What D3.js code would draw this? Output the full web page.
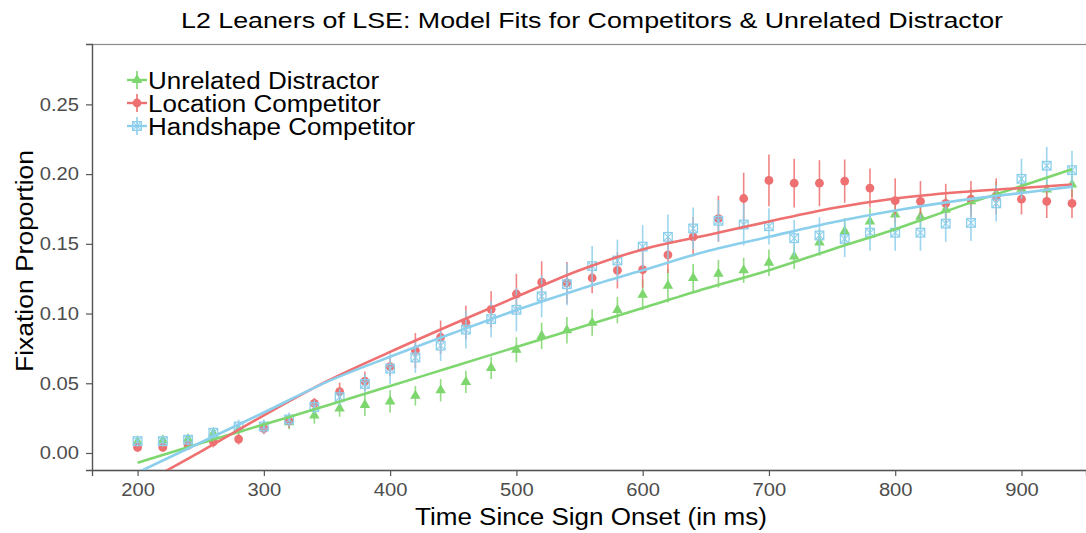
<!DOCTYPE html>
<html>
<head>
<meta charset="utf-8">
<script src="https://cdn.jsdelivr.net/npm/d3@7"></script>
<style>
  html, body { margin: 0; padding: 0; background: #fff; }
  svg { display: block; font-family: "Liberation Sans", Arial, sans-serif; }
</style>
</head>
<body>
<svg id="chart" width="1086" height="533"></svg>
<script>
// ---------------- DATA ----------------
const times = [200,220,240,260,280,300,320,340,360,380,400,420,440,460,480,500,520,540,560,580,
               600,620,640,660,680,700,720,740,760,780,800,820,840,860,880,900,920,940];

const unrelatedVals = [0.008,0.009,0.010,0.014,0.017,0.019,0.022,0.027,0.032,0.0345,0.037,0.041,0.045,0.051,0.061,0.074,0.084,0.088,0.0935,0.1025,
                   0.1135,0.120,0.1255,0.1285,0.131,0.1365,0.141,0.151,0.159,0.166,0.171,0.1695,0.1745,0.1805,0.186,0.1895,0.189,0.1925];
const unrelatedErr = [0.002,0.002,0.003,0.003,0.004,0.004,0.005,0.006,0.006,0.008,0.008,0.007,0.008,0.008,0.008,0.009,0.0095,0.0095,0.0095,0.0095,
                      0.011,0.012,0.010,0.010,0.009,0.0095,0.009,0.0095,0.0095,0.0095,0.009,0.009,0.009,0.009,0.009,0.009,0.009,0.009];

const locationVals = [0.004,0.004,0.0055,0.008,0.010,0.0175,0.023,0.0355,0.044,0.0515,0.062,0.0735,0.083,0.0935,0.103,0.114,0.1225,0.122,0.1255,0.131,
                  0.1315,0.142,0.155,0.168,0.1825,0.1955,0.1935,0.1935,0.195,0.190,0.181,0.1805,0.179,0.182,0.184,0.182,0.1805,0.179];
const locationErr = [0.003,0.003,0.003,0.004,0.004,0.004,0.005,0.004,0.0065,0.007,0.007,0.0125,0.012,0.012,0.013,0.0145,0.015,0.015,0.011,0.013,
                     0.013,0.013,0.014,0.0165,0.0185,0.0185,0.0175,0.0165,0.0155,0.014,0.016,0.0145,0.014,0.013,0.013,0.011,0.012,0.0105];

const handshapeVals = [0.0085,0.0085,0.0095,0.0145,0.019,0.019,0.024,0.033,0.040,0.0495,0.0605,0.0685,0.077,0.0885,0.096,0.1027,0.1123,0.121,0.134,0.138,
                   0.148,0.155,0.161,0.1665,0.1638,0.1626,0.154,0.156,0.1535,0.158,0.158,0.158,0.1645,0.165,0.179,0.1966,0.206,0.2028];
const handshapeErr = [0.004,0.004,0.004,0.004,0.005,0.005,0.005,0.005,0.006,0.007,0.011,0.011,0.011,0.0135,0.013,0.0155,0.015,0.015,0.0145,0.015,
                      0.0155,0.016,0.015,0.015,0.015,0.013,0.013,0.013,0.013,0.013,0.013,0.013,0.013,0.013,0.013,0.0145,0.0135,0.014];

// model fits
const fitTimes = [200,250,300,350,400,450,500,550,600,650,700,750,800,850,900,940];
const fitUnrelated = [-0.007,0.007,0.0205,0.034,0.048,0.062,0.076,0.090,0.104,0.118,0.131,0.146,0.1605,0.1765,0.1915,0.2035];
const fitLocation  = [-0.024,0.001,0.027,0.0515,0.0725,0.0925,0.112,0.131,0.146,0.156,0.166,0.1755,0.1825,0.187,0.190,0.1925];
const fitHandshape = [-0.014,0.0075,0.029,0.051,0.069,0.086,0.1025,0.1175,0.131,0.1445,0.155,0.1653,0.1739,0.181,0.1865,0.191];

const seriesNames = ["Unrelated Distractor","Location Competitor","Handshape Competitor"];
const xTicks = [200,300,400,500,600,700,800,900];
const yTicks = [0.00,0.05,0.10,0.15,0.20,0.25];

const titleText = "L2 Leaners of LSE: Model Fits for Competitors & Unrelated Distractor";
const xTitle = "Time Since Sign Onset (in ms)";
const yTitle = "Fixation Proportion";

// ---------------- LAYOUT ----------------
const colors = { "Unrelated Distractor": "#7ed66e", "Location Competitor": "#ee7070", "Handshape Competitor": "#8ccfec" };
const shapes = { "Unrelated Distractor": "triangle", "Location Competitor": "circle", "Handshape Competitor": "squarecross" };

const panel = { left: 92, right: 1086, top: 44, bottom: 470 };
const svg = d3.select("#chart");

const x = d3.scaleLinear().domain([163.9, 951.1]).range([panel.left, panel.right]);
const y = d3.scaleLinear().domain([-0.0122, 0.2933]).range([panel.bottom, panel.top]);

function stretch(sel, factor) {
  sel.each(function() {
    const len = this.getComputedTextLength();
    d3.select(this).attr("textLength", len * factor).attr("lengthAdjust", "spacingAndGlyphs");
  });
}

svg.append("defs").append("clipPath").attr("id", "clip")
  .append("rect").attr("x", panel.left).attr("y", panel.top)
  .attr("width", panel.right - panel.left).attr("height", panel.bottom - panel.top);

// panel border
svg.append("rect").attr("x", panel.left + 0.5).attr("y", panel.top + 0.5)
  .attr("width", panel.right - panel.left + 5).attr("height", panel.bottom - panel.top)
  .attr("fill", "none").attr("stroke", "#8a8a8a").attr("stroke-width", 1.2);

// axes
const xAxis = d3.axisBottom(x).tickValues(xTicks).tickSize(6).tickPadding(7).tickFormat(d3.format("d"));
const gx = svg.append("g").attr("transform", `translate(0,${panel.bottom})`).call(xAxis);
gx.select(".domain").attr("stroke", "#555").attr("stroke-width", 1.3);
gx.selectAll(".tick line").attr("stroke", "#555").attr("stroke-width", 1.2);
gx.selectAll(".tick text").attr("fill", "#4d4d4d").style("font-size", "18px")
  .style("font-family", '"Liberation Sans", Arial, sans-serif');
stretch(gx.selectAll(".tick text"), 1.12);

const yAxis = d3.axisLeft(y).tickValues(yTicks).tickSize(6).tickPadding(7).tickFormat(d3.format(".2f"));
const gy = svg.append("g").attr("transform", `translate(${panel.left},0)`).call(yAxis);
gy.select(".domain").attr("stroke", "#555").attr("stroke-width", 1.3);
gy.selectAll(".tick line").attr("stroke", "#555").attr("stroke-width", 1.2);
gy.selectAll(".tick text").attr("fill", "#4d4d4d").style("font-size", "18px")
  .style("font-family", '"Liberation Sans", Arial, sans-serif');
stretch(gy.selectAll(".tick text"), 1.12);

// ---------------- MARKS ----------------
const series = [
  { name: seriesNames[0], vals: unrelatedVals, err: unrelatedErr, fit: fitUnrelated },
  { name: seriesNames[1], vals: locationVals,  err: locationErr,  fit: fitLocation },
  { name: seriesNames[2], vals: handshapeVals, err: handshapeErr, fit: fitHandshape }
];

const plot = svg.append("g").attr("clip-path", "url(#clip)");

function drawMarker(g, shape, color, cx, cy) {
  if (shape === "circle") {
    g.append("circle").attr("cx", cx).attr("cy", cy).attr("r", 4.4).attr("fill", color);
  } else if (shape === "triangle") {
    g.append("path").attr("d", d3.symbol().type(d3.symbolTriangle).size(48)())
      .attr("transform", `translate(${cx},${cy})`).attr("fill", color);
  } else {
    const s = 4.3;
    g.append("rect").attr("x", cx - s).attr("y", cy - s).attr("width", 2 * s).attr("height", 2 * s)
      .attr("fill", "none").attr("stroke", color).attr("stroke-width", 1.3);
    g.append("path").attr("d", `M${cx - s},${cy - s}L${cx + s},${cy + s}M${cx + s},${cy - s}L${cx - s},${cy + s}`)
      .attr("stroke", color).attr("stroke-width", 1.1);
  }
}

series.forEach(s => {
  const g = plot.append("g");
  const c = colors[s.name];
  times.forEach((t, i) => {
    g.append("line").attr("x1", x(t)).attr("x2", x(t))
      .attr("y1", y(s.vals[i] - s.err[i])).attr("y2", y(s.vals[i] + s.err[i]))
      .attr("stroke", c).attr("stroke-width", 1.6).attr("opacity", 0.85);
    drawMarker(g, shapes[s.name], c, x(t), y(s.vals[i]));
  });
});

const line = d3.line().x((d, i) => x(fitTimes[i])).y(d => y(d)).curve(d3.curveMonotoneX);
series.forEach(s => {
  plot.append("path").datum(s.fit).attr("d", line)
    .attr("fill", "none").attr("stroke", colors[s.name]).attr("stroke-width", 2.6);
});

// ---------------- LEGEND ----------------
const legend = svg.append("g");
const legRows = [80, 103, 126];
series.forEach((s, i) => {
  const c = colors[s.name];
  const cy = legRows[i];
  const kx = 137;
  legend.append("line").attr("x1", kx - 10).attr("x2", kx + 10).attr("y1", cy).attr("y2", cy)
    .attr("stroke", c).attr("stroke-width", 2.4);
  legend.append("line").attr("x1", kx).attr("x2", kx).attr("y1", cy - 9).attr("y2", cy + 9)
    .attr("stroke", c).attr("stroke-width", 1.6);
  drawMarker(legend, shapes[s.name], c, kx, cy);
  const t = legend.append("text").attr("x", 148).attr("y", cy + 8.5).text(s.name)
    .style("font-size", "23px").attr("fill", "#000");
  stretch(t, 1.13);
});

// ---------------- TITLES ----------------
const title = svg.append("text").attr("x", 592).attr("y", 27.5).attr("text-anchor", "middle")
  .style("font-size", "22px").attr("fill", "#000").text(titleText);
title.attr("textLength", 822).attr("lengthAdjust", "spacingAndGlyphs");

const xt = svg.append("text").attr("x", 591).attr("y", 525).attr("text-anchor", "middle")
  .style("font-size", "23px").attr("fill", "#000").text(xTitle);
xt.attr("textLength", 352).attr("lengthAdjust", "spacingAndGlyphs");

const yt = svg.append("text").attr("transform", "translate(33,261) rotate(-90)").attr("text-anchor", "middle")
  .style("font-size", "23px").attr("fill", "#000").text(yTitle);
yt.attr("textLength", 222).attr("lengthAdjust", "spacingAndGlyphs");
</script>
</body>
</html>
